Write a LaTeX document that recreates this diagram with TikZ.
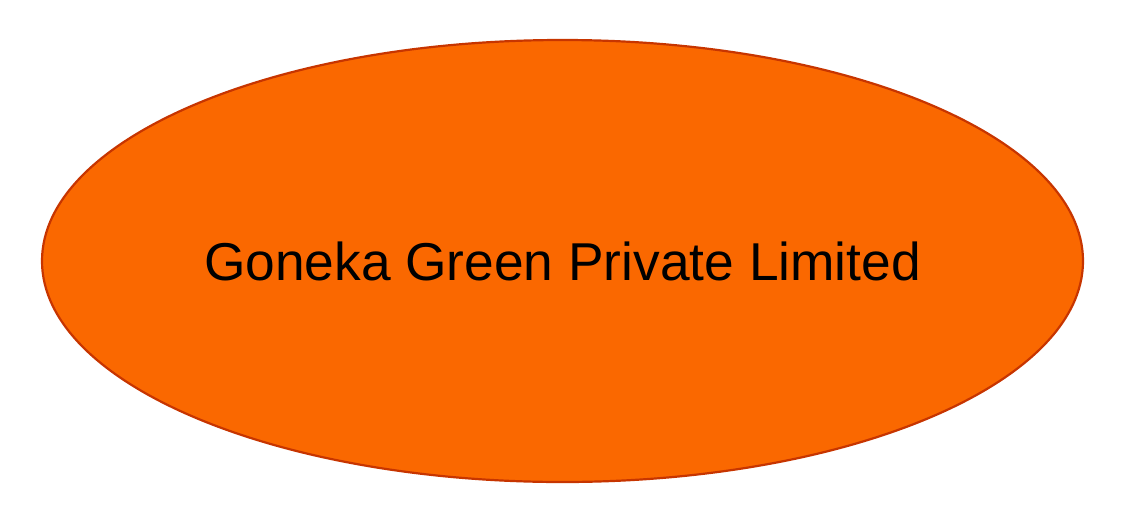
\documentclass[tikz,border=0pt]{standalone}
\usepackage{fontspec}
\setmainfont{Liberation Sans}
\usetikzlibrary{shapes.geometric}
\definecolor{companyfill}{HTML}{FA6800}
\definecolor{companyline}{HTML}{C73500}
\tikzset{
  company/.style={ellipse, draw=companyline, fill=companyfill, line width=2.2pt,
    minimum width=1041pt, minimum height=442pt, inner sep=0pt,
    font=\fontsize{53.3}{60}\selectfont, text=black}
}

\begin{document}
\begin{tikzpicture}[x=1pt,y=-1pt]
\useasboundingbox (0,0) rectangle (1128,528);
\node[company] (goneka) at (562.5,261) {Goneka Green Private Limited\hspace{6pt}};
\end{tikzpicture}
\end{document}
